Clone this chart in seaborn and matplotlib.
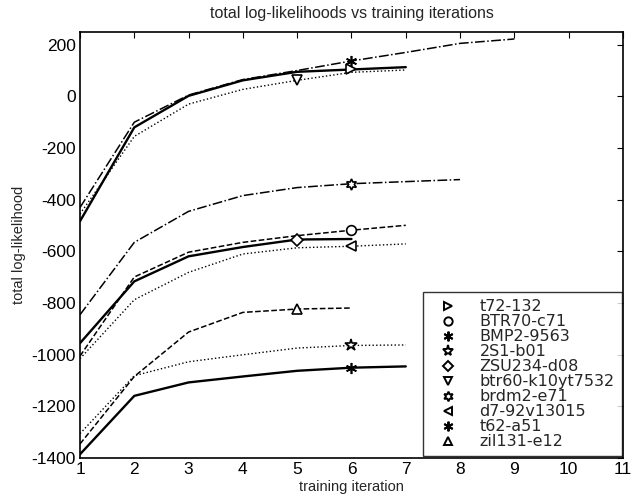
import numpy as np
import pandas as pd
import matplotlib
matplotlib.use('Agg')
import matplotlib.pyplot as plt
import seaborn as sns
from matplotlib.lines import Line2D

# ---- data ----
names = ['t72-132', 'BTR70-c71', 'BMP2-9563', '2S1-b01', 'ZSU234-d08',
         'btr60-k10yt7532', 'brdm2-e71', 'd7-92v13015', 't62-a51', 'zil131-e12']

t72 = [-483, -120, 2, 62, 95, 104, 113]
btr70 = [-1005, -699, -603, -565, -539, -518, -499]
bmp2 = [-430, -100, 5, 65, 100, 137, 170, 205, 222]
s2s1 = [-1305, -1081, -1027, -1000, -974, -964, -962]
zsu234 = [-955, -716, -619, -583, -554, -552]
btr60 = [-455, -155, -30, 27, 62, 93, 102]
brdm2 = [-845, -565, -445, -384, -353, -338, -330, -322]
d7 = [-1015, -787, -681, -610, -586, -580, -571]
t62 = [-1385, -1159, -1107, -1084, -1062, -1050, -1045]
zil131 = [-1345, -1084, -912, -836, -823, -819]

series = [t72, btr70, bmp2, s2s1, zsu234, btr60, brdm2, d7, t62, zil131]
marker_iter = [6, 6, 6, 6, 5, 5, 6, 6, 6, 5]   # iteration carrying the marker

# ---- styles ----
markers = ['>', 'o', (6, 2, 0), '*', 'D', 'v', (6, 1, 0), '<', (6, 2, 0), '^']
msizes = [7, 7, 8, 9, 6, 7, 8, 7, 8, 7]
lstyles = ['-', '--', '-.', ':', '-', ':', '-.', ':', '-', '--']
lwidths = [1.7, 1.1, 1.1, 1.0, 1.7, 1.0, 1.1, 1.0, 1.7, 1.1]

sns.set_style('white')
plt.rcParams['font.family'] = ['Liberation Sans', 'DejaVu Sans']
plt.rcParams['axes.unicode_minus'] = False

fig = plt.figure(figsize=(6.35, 5.04), dpi=100)
ax = fig.add_axes([0.126, 0.091, 0.855, 0.846])

for i, vals in enumerate(series):
    df = pd.DataFrame({'iter': np.arange(1, len(vals) + 1), 'll': vals})
    sns.lineplot(data=df, x='iter', y='ll', ax=ax, color='black',
                 linestyle=lstyles[i], linewidth=lwidths[i])
    pt = df[df['iter'] == marker_iter[i]]
    ax.plot(pt['iter'], pt['ll'], linestyle='none', marker=markers[i],
            markersize=msizes[i], markerfacecolor='white',
            markeredgecolor='black', markeredgewidth=1.2)

ax.set_xlim(1, 11)
ax.set_ylim(-1400, 250)
ax.set_xticks(range(1, 12))
ax.set_yticks(range(-1400, 201, 200))
ax.tick_params(direction='in', top=True, right=True, length=4,
               labelsize=12.5, colors='black', pad=3)
for sp in ax.spines.values():
    sp.set_visible(True)
    sp.set_color('black')
    sp.set_linewidth(1.2)

ax.set_title('total log-likelihoods vs training iterations', fontsize=11.5, pad=10)
ax.set_xlabel('training iteration', fontsize=10.5, labelpad=2)
ax.set_ylabel('total log-likelihood', fontsize=10.5, labelpad=4)

handles = [Line2D([], [], linestyle='none', marker=markers[i],
                  markersize=msizes[i] - 1, markerfacecolor='white',
                  markeredgecolor='black', markeredgewidth=1.4)
           for i in range(len(names))]
leg = ax.legend(handles, names, loc='lower right', bbox_to_anchor=(0.998, 0.004),
                prop={'family': 'DejaVu Sans', 'size': 11.5},
                frameon=True, fancybox=False, edgecolor='black',
                handlelength=2.2, handletextpad=0.9, labelspacing=0.0,
                borderpad=0.45, borderaxespad=0.0)
leg.get_frame().set_linewidth(1.0)

fig.savefig('out.png', dpi=100, facecolor='white')
